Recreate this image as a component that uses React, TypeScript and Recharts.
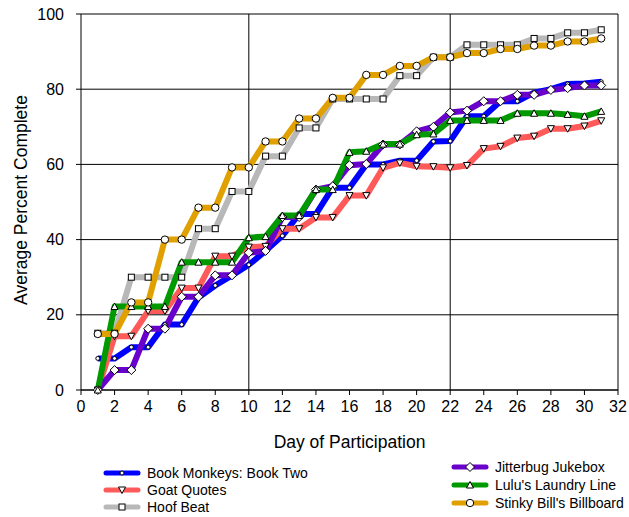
import React from "react";
import { LineChart, Line, XAxis, YAxis, CartesianGrid, ReferenceLine } from "recharts";

const days = [1, 2, 3, 4, 5, 6, 7, 8, 9, 10, 11, 12, 13, 14, 15, 16, 17, 18, 19, 20, 21, 22, 23, 24, 25, 26, 27, 28, 29, 30, 31];

const bookMonkeys = [8.4, 8.4, 11.4, 11.4, 17.4, 17.4, 24.6, 27.8, 30.5, 33.3, 37, 41, 46.8, 46.8, 53.8, 53.8, 60, 60, 61, 61, 66.1, 66.2, 72.8, 72.8, 76.8, 76.8, 79.1, 80, 81.4, 81.5, 82];
const goatQuotes = [0, 14.3, 14.3, 21, 21, 27.1, 27.1, 35.6, 35.6, 38, 38.2, 42.9, 42.9, 45.9, 45.9, 51.7, 51.7, 59.1, 60.4, 59.5, 59.4, 59.1, 59.7, 64.2, 64.8, 67, 67.5, 69.5, 69.5, 70.2, 71.6];
const hoofBeat = [15.1, 15.1, 30, 30, 30, 30, 42.9, 42.9, 52.8, 52.8, 62.2, 62.2, 69.7, 69.7, 77.4, 77.4, 77.4, 77.4, 83.6, 83.6, 88.5, 88.5, 91.8, 91.8, 91.8, 91.8, 93.5, 93.5, 95, 95, 95.8];
const jitterbug = [0, 5.3, 5.3, 16.3, 16.3, 24.8, 24.8, 30.5, 30.5, 36.5, 37, 46, 46, 53.3, 54.2, 59.8, 60.1, 65.3, 65.3, 68.8, 70, 73.8, 74.3, 76.8, 76.8, 78.5, 78.5, 79.8, 80.3, 81, 81];
const lulu = [0, 22.2, 22.2, 22.2, 22.2, 34, 34, 34, 34, 40.5, 40.8, 46.4, 46.4, 53.3, 53.3, 63.2, 63.5, 65.4, 65.4, 67.9, 68.1, 71.7, 71.7, 71.7, 71.7, 73.6, 73.6, 73.6, 73.3, 72.8, 74.1];
const stinkyBill = [14.9, 14.9, 23.3, 23.3, 40, 40, 48.5, 48.5, 59.2, 59.2, 66.1, 66.1, 72.2, 72.2, 77.7, 77.7, 83.8, 83.8, 86.2, 86.2, 88.5, 88.5, 89.6, 89.6, 90.7, 90.7, 91.6, 91.6, 92.7, 92.7, 93.5];

const xTicks = [0, 2, 4, 6, 8, 10, 12, 14, 16, 18, 20, 22, 24, 26, 28, 30, 32];
const yTicks = [0, 20, 40, 60, 80, 100];

type Shape = "dot" | "down" | "square" | "diamond" | "up" | "circle";

const series: { key: string; name: string; color: string; shape: Shape; values: number[] }[] = [
  { key: "bm", name: "Book Monkeys: Book Two", color: "#0000ff", shape: "dot", values: bookMonkeys },
  { key: "gq", name: "Goat Quotes", color: "#ff5a5a", shape: "down", values: goatQuotes },
  { key: "hb", name: "Hoof Beat", color: "#b8b8b8", shape: "square", values: hoofBeat },
  { key: "jj", name: "Jitterbug Jukebox", color: "#6a00cc", shape: "diamond", values: jitterbug },
  { key: "ll", name: "Lulu's Laundry Line", color: "#009a00", shape: "up", values: lulu },
  { key: "sb", name: "Stinky Bill's Billboard", color: "#e0a000", shape: "circle", values: stinkyBill },
];

const data = days.map((d, i) => {
  const row: Record<string, number> = { day: d };
  series.forEach((s) => (row[s.key] = s.values[i]));
  return row;
});

const FONT = "Arial, 'Liberation Sans', sans-serif";

function marker(shape: Shape, cx: number, cy: number, key?: React.Key) {
  const p = { fill: "#fff", stroke: "#000", strokeWidth: 1, key };
  switch (shape) {
    case "dot":
      return <circle {...p} cx={cx} cy={cy} r={2} />;
    case "down":
      return <polygon {...p} points={`${cx - 3.5},${cy - 3} ${cx + 3.5},${cy - 3} ${cx},${cy + 3.5}`} />;
    case "up":
      return <polygon {...p} points={`${cx - 3.5},${cy + 3} ${cx + 3.5},${cy + 3} ${cx},${cy - 3.5}`} />;
    case "square":
      return <rect {...p} x={cx - 3} y={cy - 3} width={6} height={6} />;
    case "diamond":
      return <polygon {...p} points={`${cx},${cy - 4.5} ${cx + 4.5},${cy} ${cx},${cy + 4.5} ${cx - 4.5},${cy}`} />;
    default:
      return <circle {...p} cx={cx} cy={cy} r={3.7} />;
  }
}

function LegendItem({ s, rowHeight }: { s: (typeof series)[number]; rowHeight: number }) {
  return (
    <div style={{ display: "flex", alignItems: "center", height: rowHeight }}>
      <svg width={38} height={10} style={{ marginRight: 6 }}>
        <line x1={3} y1={5} x2={35} y2={5} stroke={s.color} strokeWidth={5} strokeLinecap="round" />
        {marker(s.shape, 19, 5)}
      </svg>
      <span>{s.name}</span>
    </div>
  );
}

export default function App() {
  return (
    <div style={{ position: "absolute", left: 0, top: 0, width: 629, height: 517, background: "#fff", fontFamily: FONT }}>
      <LineChart width={629} height={517} data={data} margin={{ top: 14, right: 11, left: 0, bottom: 67 }}>
        <CartesianGrid vertical={false} horizontal stroke="#000" />
        <ReferenceLine x={10} stroke="#000" />
        <ReferenceLine x={22} stroke="#000" />
        <ReferenceLine x={32} stroke="#000" />
        <XAxis
          dataKey="day"
          type="number"
          domain={[0, 32]}
          ticks={xTicks}
          interval={0}
          height={60}
          tickSize={5}
          tickMargin={6}
          axisLine={{ stroke: "#000" }}
          tickLine={{ stroke: "#000" }}
          tick={{ fill: "#000", fontSize: 16, fontFamily: FONT }}
          label={{
            content: (props: any) => {
              const vb = props.viewBox;
              return (
                <text x={vb.x + vb.width / 2} y={442} textAnchor="middle" dominantBaseline="central" fontSize={17.5} fontFamily={FONT} fill="#000">
                  Day of Participation
                </text>
              );
            },
          }}
        />
        <YAxis
          type="number"
          domain={[0, 100]}
          ticks={yTicks}
          interval={0}
          width={81}
          tickSize={5}
          tickMargin={12}
          axisLine={{ stroke: "#000" }}
          tickLine={{ stroke: "#000" }}
          tick={{ fill: "#000", fontSize: 16, fontFamily: FONT }}
          label={{
            content: (props: any) => {
              const vb = props.viewBox;
              const cx = vb.x + 21;
              const cy = vb.y + vb.height / 2 - 2;
              return (
                <text x={cx} y={cy} transform={`rotate(-90 ${cx} ${cy})`} textAnchor="middle" dominantBaseline="central" fontSize={17.5} fontFamily={FONT} fill="#000">
                  Average Percent Complete
                </text>
              );
            },
          }}
        />
        {series.map((s) => (
          <Line
            key={s.key}
            dataKey={s.key}
            name={s.name}
            stroke={s.color}
            strokeWidth={6}
            strokeLinejoin="round"
            isAnimationActive={false}
            dot={(props: any) => marker(s.shape, props.cx, props.cy, `${s.key}-${props.index}`)}
            activeDot={false}
          />
        ))}
      </LineChart>
      <div style={{ position: "absolute", left: 103, top: 464, fontSize: 14, color: "#000" }}>
        {series.slice(0, 3).map((s) => (
          <LegendItem key={s.key} s={s} rowHeight={17} />
        ))}
      </div>
      <div style={{ position: "absolute", left: 451, top: 458, fontSize: 14, color: "#000" }}>
        {series.slice(3).map((s) => (
          <LegendItem key={s.key} s={s} rowHeight={18} />
        ))}
      </div>
    </div>
  );
}
